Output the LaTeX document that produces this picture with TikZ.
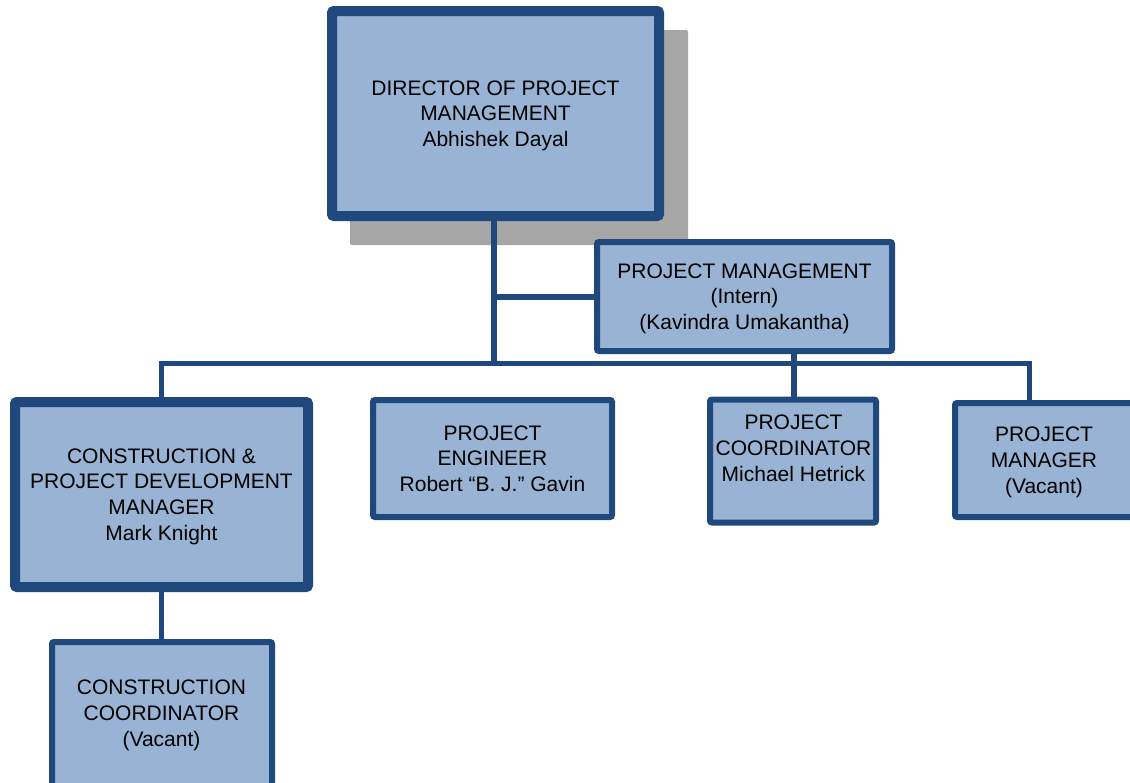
\documentclass[tikz,border=0pt]{standalone}
\usepackage{fontspec}
\setmainfont{Liberation Sans}
\usetikzlibrary{backgrounds}
\definecolor{boxfill}{RGB}{152,179,211}
\definecolor{boxline}{RGB}{31,73,125}
\definecolor{shadowgray}{RGB}{166,166,166}
\tikzset{
  orgbox/.style={draw=boxline, fill=boxfill, rounded corners=2pt, inner sep=0pt,
    align=center, font=\fontsize{21}{25.8}\selectfont, text=black, text depth=0pt},
  thickbox/.style={orgbox, line width=10pt},
  thinbox/.style={orgbox, line width=6pt},
  boxtext/.style={align=center, font=\fontsize{21}{25.8}\selectfont, text=black, inner sep=0pt, text depth=0pt},
  link/.style={draw=boxline, line width=5.5pt},
}
\begin{document}
\begin{tikzpicture}[x=1pt, y=-1pt]
\useasboundingbox (0,0) rectangle (1130,782);
\clip (0,0) rectangle (1130,782);

% boxes
\node[thickbox, minimum width=327pt, minimum height=205pt] (dir) at (495.5,113.5)
  {DIRECTOR OF PROJECT\\MANAGEMENT\\Abhishek Dayal};
\node[thinbox, minimum width=295pt, minimum height=109pt] (pmi) at (744.5,296.5)
  {PROJECT MANAGEMENT\\(Intern)\\(Kavindra Umakantha)};
\node[thickbox, minimum width=293pt, minimum height=185pt] (cpd) at (161.5,494.5)
  {CONSTRUCTION \&\\PROJECT DEVELOPMENT\\MANAGER\\Mark Knight};
\node[thinbox, minimum width=239pt, minimum height=117pt] (eng) at (492.5,458.5)
  {PROJECT\\ENGINEER\\Robert “B. J.” Gavin};
\node[thinbox, minimum width=166pt, minimum height=123pt] (coord) at (793,461) {};
\node[boxtext] (coordt) at (793.5,448) {PROJECT\\COORDINATOR\\Michael Hetrick};
\node[thinbox, minimum width=178pt, minimum height=114pt] (pm) at (1044,460)
  {PROJECT\\MANAGER\\(Vacant)};
\node[thinbox, minimum width=220pt, minimum height=160pt] (cc) at (162,722) {};
\node[boxtext] (cct) at (161.5,713) {CONSTRUCTION\\COORDINATOR\\(Vacant)};

% shadow and connectors behind the boxes
\coordinate (busL) at (161.5,363.5);
\coordinate (busM) at (494,363.5);
\coordinate (busR) at (1029.5,363.5);
\coordinate (busC) at (794,363.5);
\coordinate (jn) at (494,297);
\begin{scope}[on background layer]
  \fill[shadowgray, rounded corners=2pt] (350,30) rectangle (688,245);
  \draw[link] (dir.south -| busM) -- (busM);
  \draw[link] (jn) -- (pmi.west |- jn);
  \draw[link, line cap=rect] (busL) -- (busR);
  \draw[link] (busL) -- (cpd.north -| busL);
  \draw[link] (busR) -- (pm.north -| busR);
  \draw[link] (pmi.south -| busC) -- (coord.north -| busC);
  \draw[link] (cpd.south -| busL) -- (cc.north -| busL);
\end{scope}
\end{tikzpicture}
\end{document}
